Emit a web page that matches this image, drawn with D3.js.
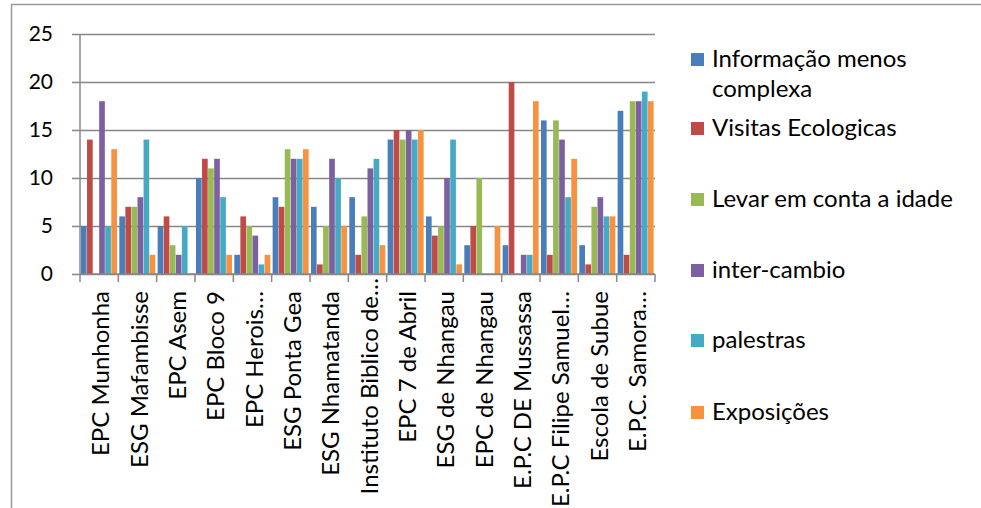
<!DOCTYPE html>
<html>
<head>
<meta charset="utf-8">
<script src="https://cdn.jsdelivr.net/npm/d3@7"></script>
<style>
  html, body { margin: 0; padding: 0; background: #fff; }
  svg { display: block; }
  text { font-family: Lato, "Noto Sans", sans-serif; fill: #000; }
</style>
</head>
<body>
<svg id="chart" width="981" height="508"></svg>
<script>
const categories = ["EPC Munhonha", "ESG Mafambisse", "EPC Asem", "EPC Bloco 9", "EPC Herois…",
  "ESG Ponta Gea", "ESG Nhamatanda", "Instituto Biblico de…", "EPC 7 de Abril", "ESG de Nhangau",
  "EPC de Nhangau", "E.P.C DE Mussassa", "E.P.C Filipe Samuel…", "Escola de Subue", "E.P.C. Samora…"];
const seriesNames = ["Informação menos complexa", "Visitas Ecologicas", "Levar em conta a idade",
  "inter-cambio", "palestras", "Exposições"];
const informacao = [5, 6, 5, 10, 2, 8, 7, 8, 14, 6, 3, 3, 16, 3, 17];
const visitas    = [14, 7, 6, 12, 6, 7, 1, 2, 15, 4, 5, 20, 2, 1, 2];
const levar      = [0, 7, 3, 11, 5, 13, 5, 6, 14, 5, 10, 0, 16, 7, 18];
const intercambio= [18, 8, 2, 12, 4, 12, 12, 11, 15, 10, 0, 2, 14, 8, 18];
const palestras  = [5, 14, 5, 8, 1, 12, 10, 12, 14, 14, 0, 2, 8, 6, 19];
const exposicoes = [13, 2, 0, 2, 2, 13, 5, 3, 15, 1, 5, 18, 12, 6, 18];
const yTicks = [0, 5, 10, 15, 20, 25];
const colors = ["#4A7EBB", "#BE4B48", "#98B954", "#7D60A0", "#46AAC5", "#F69240"];

const seriesValues = [informacao, visitas, levar, intercambio, palestras, exposicoes];

const svg = d3.select("#chart");
const plot = { left: 80, right: 655, top: 34, bottom: 274 };
const FONT = 24;
const TICKFONT = 21;

// outer chart border (top and left visible)
svg.append("path")
  .attr("d", "M11.5,520 L11.5,4.5 L990,4.5")
  .attr("fill", "none").attr("stroke", "#9a9a9a").attr("stroke-width", 1.5);

const x = d3.scaleBand().domain(categories).range([plot.left, plot.right]).padding(0);
const x1 = d3.scaleBand().domain(d3.range(seriesNames.length))
  .range([0, x.bandwidth()]).paddingOuter(0.16).paddingInner(0);
const y = d3.scaleLinear().domain([0, 25]).range([plot.bottom, plot.top]);

// gridlines + y ticks
const yAxis = d3.axisLeft(y).tickValues(yTicks).tickSize(plot.right - plot.left + 8).tickPadding(19);
const gy = svg.append("g").attr("transform", `translate(${plot.right},0)`).call(yAxis);
gy.select(".domain").remove();
gy.selectAll(".tick line").attr("stroke", "#878787").attr("stroke-width", 1.5);
gy.selectAll(".tick text").attr("font-size", TICKFONT).attr("font-family", "Lato, 'Noto Sans', sans-serif").attr("fill", "#000");

// bars
const groups = svg.append("g").selectAll("g").data(categories).join("g")
  .attr("transform", d => `translate(${x(d)},0)`);
groups.selectAll("rect")
  .data((c, ci) => seriesValues.map((vals, si) => ({ si, v: vals[ci] })))
  .join("rect")
  .attr("x", d => x1(d.si))
  .attr("width", x1.bandwidth() - 0.4)
  .attr("y", d => y(d.v))
  .attr("height", d => y(0) - y(d.v))
  .attr("fill", d => colors[d.si]);

// y axis line
svg.append("line").attr("x1", plot.left).attr("x2", plot.left)
  .attr("y1", plot.top).attr("y2", plot.bottom)
  .attr("stroke", "#878787").attr("stroke-width", 1.5);

// x axis
const boundaries = categories.map(c => x(c)).concat([plot.right]);
svg.append("line").attr("x1", plot.left).attr("x2", plot.right)
  .attr("y1", plot.bottom).attr("y2", plot.bottom)
  .attr("stroke", "#878787").attr("stroke-width", 1.5);
svg.append("g").selectAll("line").data(boundaries).join("line")
  .attr("x1", d => d).attr("x2", d => d)
  .attr("y1", plot.bottom).attr("y2", plot.bottom + 8)
  .attr("stroke", "#878787").attr("stroke-width", 1.5);

svg.append("g").selectAll("text").data(categories).join("text")
  .attr("transform", (d, i) => `translate(${x(d) + x.bandwidth() / 2 + 10},${plot.bottom + (i === 7 ? 4 : 17)}) rotate(-90)`)
  .attr("text-anchor", "end")
  .attr("font-size", FONT)
  .text(d => d);

// legend
const legendItems = [
  { lines: ["Informação menos", "complexa"], y: 67 },
  { lines: ["Visitas Ecologicas"], y: 136 },
  { lines: ["Levar em conta a idade"], y: 207 },
  { lines: ["inter-cambio"], y: 278 },
  { lines: ["palestras"], y: 348 },
  { lines: ["Exposições"], y: 420 }
];
const lg = svg.append("g");
legendItems.forEach((it, i) => {
  lg.append("rect").attr("x", 691).attr("y", it.y - 14).attr("width", 13).attr("height", 13)
    .attr("fill", colors[i]);
  const t = lg.append("text").attr("x", 712).attr("y", it.y).attr("font-size", FONT);
  it.lines.forEach((ln, k) => {
    t.append("tspan").attr("x", 712).attr("dy", k === 0 ? 0 : 30).text(ln);
  });
});
</script>
</body>
</html>
